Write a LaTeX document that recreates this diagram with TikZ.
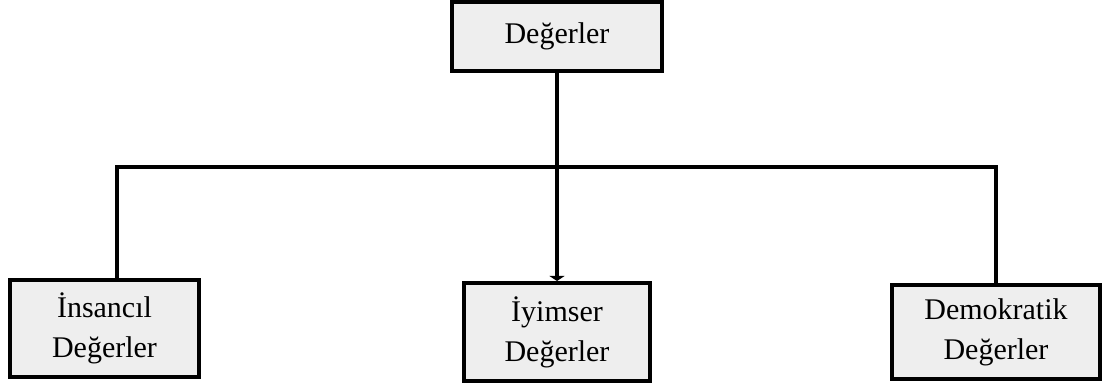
\documentclass[tikz,border=0pt]{standalone}
\usepackage{fontspec}
\setmainfont{Liberation Serif}
\usetikzlibrary{arrows.meta}
\definecolor{boxfill}{HTML}{EEEEEE}
\begin{document}
\begin{tikzpicture}[x=1pt,y=-1pt,
  valuebox/.style={draw=black, fill=boxfill, line width=4pt, inner sep=0pt,
    align=center, font=\fontsize{30}{40}\selectfont},
  link/.style={draw=black, line width=3.6pt}]
  \useasboundingbox (0,0) rectangle (1105,387);

  % boxes
  \node[valuebox, minimum width=210pt, minimum height=69pt] (top) at (557,36.5) {Değerler};
  \node[valuebox, minimum width=189pt, minimum height=97pt] (left) at (104.5,328.5) {İnsancıl\\Değerler};
  \node[valuebox, minimum width=186pt, minimum height=98pt] (mid) at (557,332) {İyimser\\Değerler};
  \node[valuebox, minimum width=208pt, minimum height=94pt] (right) at (996,332) {Demokratik\\Değerler};

  % horizontal bus
  \coordinate (busL) at (117,167);
  \coordinate (busR) at (996,167);

  % connectors
  \draw[link, -{Triangle[width=15pt,length=5pt]}] (top.south) -- (mid.north);
  \draw[link] (busL |- left.north) -- (busL) -- (busR) -- (busR |- right.north);
\end{tikzpicture}
\end{document}
